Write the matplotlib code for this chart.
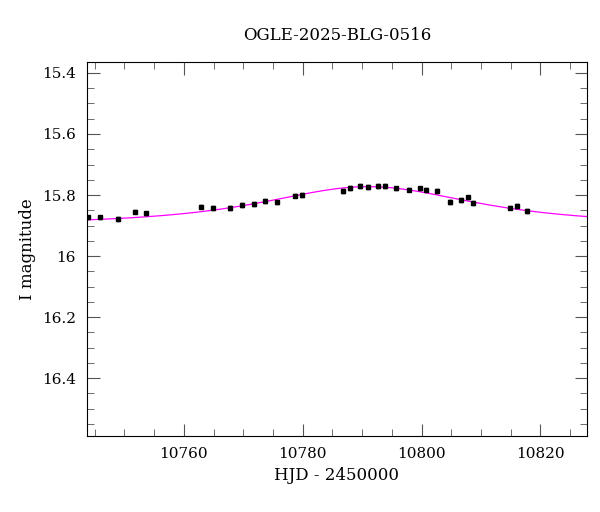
import numpy as np
import matplotlib
matplotlib.use("Agg")
import matplotlib.pyplot as plt
from matplotlib.ticker import MultipleLocator, FuncFormatter

hjd = [10743.9, 10745.9, 10748.9, 10751.8, 10753.7, 10762.9, 10764.9, 10767.7, 10769.8,
       10771.8, 10773.7, 10775.7, 10778.7, 10779.9, 10786.7, 10788.0, 10789.7, 10790.9,
       10792.7, 10793.8, 10795.7, 10797.9, 10799.7, 10800.8, 10802.6, 10804.8, 10806.7,
       10807.8, 10808.7, 10814.8, 10816.0, 10817.8]
mag = [15.873, 15.873, 15.879, 15.854, 15.860, 15.838, 15.842, 15.842, 15.832,
       15.830, 15.819, 15.824, 15.802, 15.799, 15.787, 15.776, 15.770, 15.774,
       15.770, 15.770, 15.778, 15.782, 15.778, 15.782, 15.786, 15.823, 15.816,
       15.808, 15.826, 15.841, 15.836, 15.852]
err = [0.006] * len(mag)

# model parameters (PSPL with blending)
t0, tE, u0, fs, m0 = 10791.0, 22.0, 1.0, 0.35, 15.895

plt.rcParams["font.family"] = "DejaVu Serif"
fig = plt.figure(figsize=(6, 5.12), dpi=100)
ax = fig.add_axes([0.145, 0.148, 0.833, 0.731])

t = np.linspace(10743.7, 10827.8, 500)
u = np.sqrt(u0**2 + ((t - t0) / tE) ** 2)
A = (u**2 + 2) / (u * np.sqrt(u**2 + 4))
ax.plot(t, m0 - 2.5 * np.log10(fs * A + 1 - fs), color="magenta", lw=0.9, zorder=1)
ax.errorbar(hjd, mag, yerr=err, fmt="s", ms=3.5, color="black", ecolor="black",
            elinewidth=1, capsize=1.5, zorder=2)

ax.set_xlim(10743.7, 10827.8)
ax.set_ylim(16.59, 15.364)
ax.xaxis.set_major_locator(MultipleLocator(20))
ax.xaxis.set_minor_locator(MultipleLocator(5))
ax.yaxis.set_major_locator(MultipleLocator(0.2))
ax.yaxis.set_minor_locator(MultipleLocator(0.05))
ax.yaxis.set_major_formatter(FuncFormatter(lambda v, p: f"{v:g}"))
ax.tick_params(which="both", direction="in", top=True, right=True, labelsize=11,
               color="#555555")
ax.tick_params(which="major", length=9, pad=8)
ax.tick_params(which="minor", length=5)
ax.set_xlabel("HJD - 2450000", fontsize=12)
ax.set_ylabel("I magnitude", fontsize=12)
ax.set_title("OGLE-2025-BLG-0516", fontsize=12, pad=16)
fig.savefig("out.png")
